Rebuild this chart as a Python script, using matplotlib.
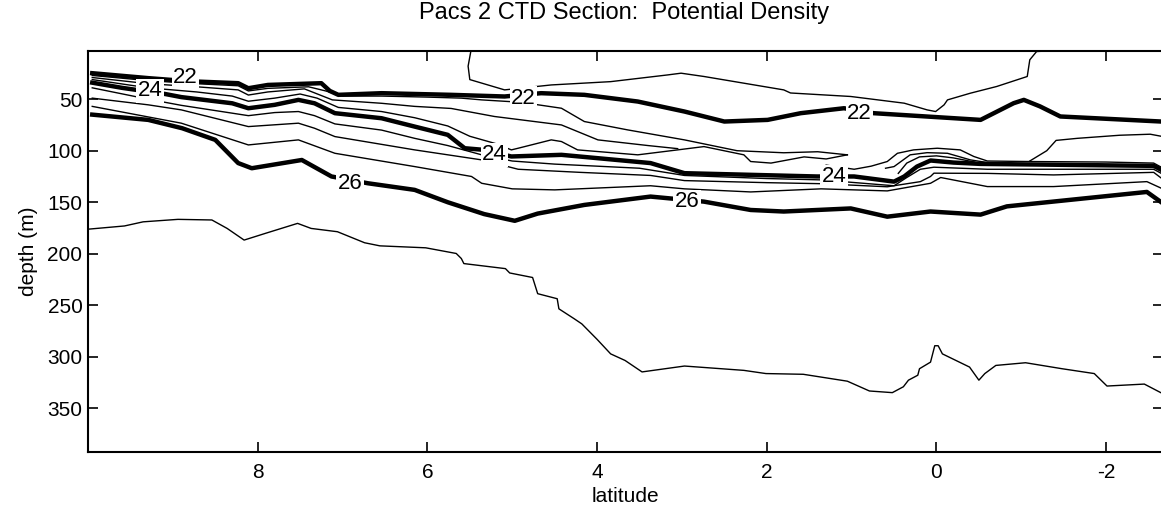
import matplotlib.pyplot as plt

plt.rcParams['font.family'] = ['Liberation Sans', 'DejaVu Sans']
plt.rcParams['axes.unicode_minus'] = False

# isopycnal depths read off the section: latitude (deg) and depth (m)
# thick, labelled contours
lat_22 = [9.95, 9.29, 8.91, 8.72, 8.23, 8.11, 7.88, 7.25, 7.15, 7.05, 6.54, 5.72, 5.09,
          4.66, 4.15, 3.52, 2.97, 2.5, 1.99, 1.6, 1.09, 0.74, -0.52, -0.91, -1.03,
          -1.22, -1.46, -2.65]
dep_22 = [24.8, 29.6, 32, 32.9, 34.5, 39.4, 36.2, 34.5, 42, 45.8, 44.2, 45.8, 47.4,
          44.2, 45.8, 52.3, 62, 71.7, 70.1, 63.6, 58.8, 63.6, 70.1, 53.9, 50.7,
          57, 66.8, 71.7]

lat_24 = [9.95, 9.6, 9.09, 8.9, 8.3, 8.11, 7.8, 7.52, 7.33, 7.09, 6.54, 6.15, 5.76,
          5.56, 5.36, 5.01, 4.42, 3.37, 2.97, 1.41, 0.97, 0.5, 0.38, 0.23, 0.07,
          -0.2, -0.52, -2.56, -2.65]
dep_24 = [34, 39, 45, 48, 54, 58.8, 55.5, 50.7, 54, 63.6, 68.5, 76.6, 84.6,
          97.6, 99, 105.6, 104, 112, 121.8, 125, 125, 130, 125, 115.4, 109.5,
          111.5, 112.8, 114.7, 118.6]

lat_26 = [9.95, 9.29, 8.89, 8.5, 8.23, 8.07, 7.48, 7.13, 6.7, 6.15, 5.76, 5.33, 4.97,
          4.7, 4.15, 3.37, 2.74, 2.19, 1.8, 1.01, 0.58, 0.07, -0.52, -0.83, -2.48,
          -2.65]
dep_26 = [65, 70.1, 78.2, 89.5, 112, 117, 109, 125, 131.6, 138, 150, 161.5, 168,
          161, 152.6, 144.5, 149.4, 157.5, 159, 156, 164, 159, 162, 154, 140,
          150]

# thin contours
lat_215 = [5.48, 5.52, 5.5, 5.09, 4.54, 3.84, 3.17, 3.01, 2.74, 1.8, 1.72, 1.01, 0.38,
           0.11, 0.01, -0.09, -0.13, -0.4, -0.71, -1.07, -1.1, -1.18, -1.69, -1.77]
dep_215 = [0, 18, 31, 41, 36.2, 33, 26.5, 24.8, 28, 41, 44, 47.4, 53.9,
           60.4, 62, 55.5, 50.7, 44.2, 37.7, 28, 11.8, 3.8, 1.5, 0]

lat_225 = [9.95, 9.29, 8.72, 8.23, 8.11, 7.88, 7.4, 7.2, 7.0, 6.54, 6.0, 5.6, 5.36,
           4.9, 4.42, 4.15, 3.64, 2.97, 2.35, 1.8, 1.4, 1.05]
dep_225 = [27, 32, 35, 37, 42, 39.5, 38, 42, 47, 47, 48, 49, 50.7,
           53, 58.8, 71.7, 79.8, 89.5, 100, 102, 101, 104]

lat_23 = [9.95, 9.29, 8.72, 8.23, 8.11, 7.88, 7.45, 7.12, 6.54, 6.15, 5.72, 5.21,
          4.42, 3.99, 3.4, 3.05]
dep_23 = [29, 35, 38, 41, 46, 43, 40, 50.7, 54, 57, 59, 66.8,
          75, 89.5, 95, 98]

lat_235 = [9.95, 9.29, 8.72, 8.3, 8.11, 7.8, 7.5, 7.3, 7.05, 6.54, 6.15, 5.76, 5.5,
           5.2, 5.01, 4.93, 4.54, 4.42, 4.23, 3.52, 3.05, 2.74, 2.27, 2.19, 1.95,
           1.56, 1.3, 1.05]
dep_235 = [31, 39, 43, 47, 52, 49, 45, 49, 58, 62, 68, 76, 86,
           93, 99.2, 97.6, 89.5, 91.1, 99.2, 104, 99.2, 96, 104, 110.5, 112,
           106, 108, 104]

# equatorial dome and eastern tongue above the 24 line
lat_dome1 = [1.3, 0.97, 0.77, 0.58, 0.46, 0.27, -0.01, -0.28, -0.44, -0.6, -1.1,
             -2.0, -2.56, -2.65]
dep_dome1 = [114, 118, 115, 110.5, 102.5, 99.2, 97.6, 99.2, 105.6, 110, 110.5,
             111, 112, 116]
lat_dome2 = [0.6, 0.5, 0.31, 0.11, -0.13, -0.4, -0.6, -0.8]
dep_dome2 = [117, 115.4, 104, 101.9, 102.5, 108.9, 111.5, 112.5]
lat_dome3 = [0.45, 0.35, 0.2, 0.0, -0.2, -0.45]
dep_dome3 = [122, 112, 106, 105, 107, 111]
lat_tongue = [-1.1, -1.18, -1.3, -1.41, -1.66, -2.16, -2.52, -2.65]
dep_tongue = [110, 106, 100, 90, 88, 85, 84, 86]

# between 24 and 26
lat_245 = [9.95, 9.29, 8.9, 8.11, 7.8, 7.52, 7.33, 7.09, 6.54, 6.15, 5.76, 5.36, 5.0,
           4.5, 3.5, 2.97, 2.0, 1.36, 0.5, 0.35, 0.19, 0.03, -0.6, -2.56, -2.65]
dep_245 = [39, 50, 56, 66, 63, 62, 66, 74, 80, 88, 95, 104, 110,
           113, 117, 124, 127, 128.3, 134, 126, 118, 116, 118, 118, 122]

lat_25 = [9.95, 9.29, 8.9, 8.11, 7.52, 7.33, 7.09, 6.15, 5.36, 4.93, 4.2, 3.37, 2.97,
          2.0, 1.36, 0.58, 0.19, 0.07, 0.03, -0.6, -1.38, -2.56, -2.65]
dep_25 = [49, 55.5, 60.4, 76.6, 73.3, 78.2, 86.3, 99.2, 108.9, 118, 121, 124, 129,
          131, 132, 135, 130, 125, 121.8, 122, 123.5, 121, 126.6]

lat_255 = [9.95, 8.9, 8.11, 7.52, 7.09, 6.15, 5.48, 5.36, 5.0, 4.5, 3.37, 2.97, 2.19,
           1.36, 0.58, 0.07, -0.05, -0.6, -1.38, -2.48, -2.65]
dep_255 = [57, 73.3, 94.4, 89.5, 102.5, 115.4, 125, 131.6, 137, 138, 134, 137, 140,
           137, 139, 131.6, 126, 134.8, 134.8, 130, 136.4]

# deep contour
lat_265 = [9.98, 9.57, 9.35, 8.94, 8.54, 8.36, 8.16, 7.91, 7.53, 7.37, 7.06, 6.74,
           6.56, 6.02, 5.66, 5.6, 5.57, 5.08, 5.03, 4.76, 4.7, 4.47, 4.45, 4.27,
           4.18, 4.0, 3.84, 3.67, 3.47, 2.97, 2.27, 2.01, 1.57, 1.05, 0.79, 0.52,
           0.39, 0.33, 0.22, 0.2, 0.07, 0.02, -0.02, -0.07, -0.39, -0.5, -0.57,
           -0.7, -1.05, -1.48, -1.86, -2.01, -2.45, -2.66]
dep_265 = [176, 173, 169, 166.6, 167.2, 175.4, 186.7, 180.2, 170.5, 175.4, 178.6,
           189.3, 192.3, 194.2, 199.7, 204.6, 209.5, 214.4, 218.6, 223, 238.7,
           243.6, 253.4, 263, 268, 283, 297.1, 303.5, 314.6, 308.9, 313.1, 316.2,
           316.9, 323.6, 333.1, 334.7, 329, 322.6, 317.8, 311.5, 305.1, 289.2,
           289.2, 297.1, 309.9, 322.6, 316.2, 308.3, 305.7, 311.5, 316.2, 328.3,
           326.4, 335.4]

# inline contour labels
label_lat = [9.27, 8.85, 4.87, 0.91, 5.21, 1.21, 6.91, 2.94]
label_dep = [42, 29, 49, 63.6, 104, 125, 131.6, 149.4]
label_txt = ['24', '22', '22', '22', '24', '24', '26', '26']

thick = [(lat_22, dep_22), (lat_24, dep_24), (lat_26, dep_26)]
thin = [(lat_215, dep_215), (lat_225, dep_225), (lat_23, dep_23), (lat_235, dep_235),
        (lat_dome1, dep_dome1), (lat_dome2, dep_dome2), (lat_dome3, dep_dome3),
        (lat_tongue, dep_tongue), (lat_245, dep_245), (lat_25, dep_25),
        (lat_255, dep_255), (lat_265, dep_265)]

fig = plt.figure(figsize=(11.61, 5.17), dpi=100)
ax = fig.add_axes([88 / 1161, 0.1263, 1075 / 1161, 0.7756])

for la, de in thin:
    ax.plot(la, de, color='k', lw=1.0)
for la, de in thick:
    ax.plot(la, de, color='k', lw=3.2)

for x, y, s in zip(label_lat, label_dep, label_txt):
    ax.text(x, y, s, ha='center', va='center', fontsize=16, zorder=5,
            bbox=dict(fc='white', ec='none', pad=1.0))

ax.set_xlim(10, -2.67)
ax.set_ylim(392, 3)
ax.set_xticks([8, 6, 4, 2, 0, -2])
ax.set_yticks(range(50, 351, 50))
ax.tick_params(direction='in', top=True, right=True, length=7, width=1.2,
               labelsize=15)
ax.tick_params(axis='x', pad=8)
ax.tick_params(axis='y', pad=4)
for sp in ax.spines.values():
    sp.set_linewidth(1.5)

ax.set_xlabel('latitude', fontsize=15, labelpad=4)
ax.set_ylabel('depth (m)', fontsize=15, labelpad=7)
fig.text(624 / 1161, 1 - 13 / 517, 'Pacs 2 CTD Section:  Potential Density',
         ha='center', va='center', fontsize=17)

fig.savefig('out.png', dpi=100)
